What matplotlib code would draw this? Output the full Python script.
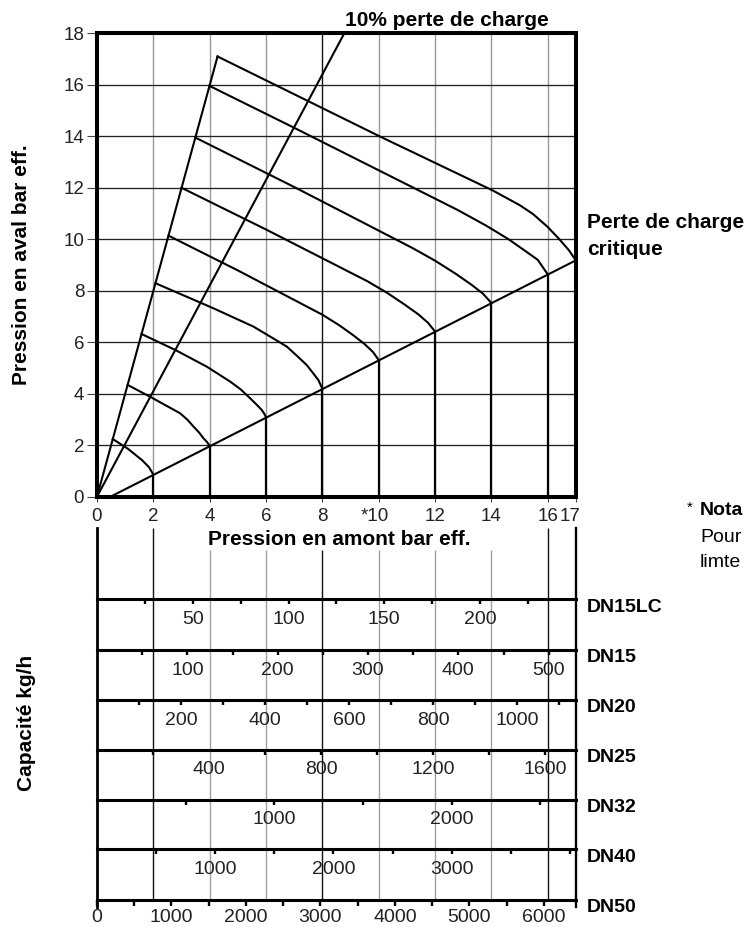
import matplotlib
matplotlib.use("Agg")
import matplotlib.pyplot as plt
from matplotlib.transforms import ScaledTranslation

plt.rcParams["font.family"] = ["Liberation Sans", "DejaVu Sans"]

# ---- main chart : downstream vs upstream pressure (bar eff.) ----
x_ticks = [0, 2, 4, 6, 8, 10, 12, 14, 16, 17]
x_tick_labels = ["0", "2", "4", "6", "8", "*10", "12", "14", "16", "17"]
y_ticks = [0, 2, 4, 6, 8, 10, 12, 14, 16, 18]
grid_x = [2, 4, 6, 8, 10, 12, 14, 16]
grid_x_color = ["#9a9a9a", "#9a9a9a", "#9a9a9a", "#111111",
                "#9a9a9a", "#9a9a9a", "#9a9a9a", "#9a9a9a"]
grid_y = [2, 4, 6, 8, 10, 12, 14, 16]

# one curve per upstream pressure, from the max line down to the critical line
curve_p = [2, 4, 6, 8, 10, 12, 14, 16, 17]
curve_x = [
    [0.56, 1.10, 1.60, 1.85, 2.00],
    [1.09, 1.89, 2.95, 3.20, 3.43, 3.62, 3.78, 3.91, 4.00],
    [1.58, 2.78, 3.90, 4.73, 5.10, 5.44, 5.70, 5.85, 5.95, 6.00],
    [2.08, 4.13, 5.55, 6.30, 6.74, 7.15, 7.45, 7.70, 7.86, 8.00],
    [2.54, 5.00, 8.00, 8.60, 9.10, 9.50, 9.80, 10.00],
    [3.00, 6.00, 9.60, 10.30, 10.90, 11.40, 11.75, 12.00],
    [3.49, 7.00, 11.20, 12.00, 12.75, 13.30, 13.70, 14.00],
    [3.99, 7.00, 12.80, 13.80, 14.60, 15.20, 15.65, 16.00],
    [4.28, 10.05, 14.06, 15.00, 15.48, 16.00, 16.40, 16.75, 17.00],
]
curve_y = [
    [2.24, 1.86, 1.42, 1.14, 0.86],
    [4.34, 3.88, 3.24, 3.00, 2.72, 2.50, 2.27, 2.12, 1.98],
    [6.32, 5.70, 5.05, 4.47, 4.17, 3.82, 3.54, 3.37, 3.20, 3.09],
    [8.29, 7.32, 6.61, 6.12, 5.83, 5.42, 5.11, 4.76, 4.53, 4.20],
    [10.14, 8.79, 7.07, 6.66, 6.27, 5.93, 5.62, 5.31],
    [12.00, 10.38, 8.37, 7.92, 7.48, 7.09, 6.76, 6.42],
    [13.95, 12.03, 9.66, 9.17, 8.65, 8.23, 7.89, 7.53],
    [15.96, 14.33, 11.14, 10.54, 10.01, 9.55, 9.20, 8.64],
    [17.10, 13.99, 11.89, 11.33, 10.98, 10.48, 10.02, 9.58, 9.18],
]

max_line_x = [0, 4.28]
max_line_y = [0, 17.1]
loss10_x = [0, 8.78]
loss10_y = [0, 18.0]
crit_x = [0.48, 17.0]
crit_y = [0.0, 9.18]

# ---- capacity scales (kg/h) ----
dn_names = ["DN15LC", "DN15", "DN20", "DN25", "DN32", "DN40", "DN50"]
dn_full = [250, 530, 1140, 1710, 2700, 4050, 6430]   # kg/h at 17 bar
dn_ticks = [
    [25, 50, 75, 100, 125, 150, 175, 200, 225],
    [50, 100, 150, 200, 250, 300, 350, 400, 450, 500],
    [100, 200, 300, 400, 500, 600, 700, 800, 900, 1000, 1100],
    [200, 600, 800, 1000, 1200, 1400, 1600],
    [500, 1000, 1500, 2000, 2500],
    [500, 1000, 1500, 2000, 2500, 3000, 3500, 4000],
    [0, 500, 1000, 1500, 2000, 2500, 3000, 3500, 4000, 4500, 5000, 5500, 6000],
]
dn_labels = [
    [50, 100, 150, 200],
    [100, 200, 300, 400, 500],
    [200, 400, 600, 800, 1000],
    [400, 800, 1200, 1600],
    [1000, 2000],
    [1000, 2000, 3000],
    [0, 1000, 2000, 3000, 4000, 5000, 6000],
]
cap_guide_x = [2, 4, 6, 8, 10, 12, 14, 16]
cap_guide_color = ["#111111", "#a0a0a0", "#a0a0a0", "#111111",
                   "#a0a0a0", "#a0a0a0", "#a0a0a0", "#111111"]

# layout (pixels of a 747x927 image)
W, H = 747, 927
X0, X1 = 97, 575.8
ROW_PX = [599, 650, 700, 749.5, 799.5, 849, 900]
CAP_TOP, CAP_BOT = 527.7, 907
GUIDE_TOP = [527.7, 550, 550, 550, 550, 550, 550, 527.7]


def fx(px):
    return px / W


def fy(py):
    return 1 - py / H


fig = plt.figure(figsize=(W / 100, H / 100), dpi=100)

ax = fig.add_axes([fx(X0), fy(496.7), fx(X1) - fx(X0), fy(33.3) - fy(496.7)])
ax.set_xlim(0, 17)
ax.set_ylim(0, 18)

for gx, gc in zip(grid_x, grid_x_color):
    ax.axvline(gx, color=gc, lw=1.0, zorder=1)
for gy in grid_y:
    ax.axhline(gy, color="#222222", lw=0.95, zorder=1)

ax.plot(max_line_x, max_line_y, color="k", lw=1.5, zorder=3)
ax.plot(loss10_x, loss10_y, color="k", lw=1.5, zorder=3)
ax.plot(crit_x, crit_y, color="k", lw=1.5, zorder=3)
for p, xs, ys in zip(curve_p, curve_x, curve_y):
    ax.plot(xs, ys, color="k", lw=1.5, solid_joinstyle="round", zorder=3)
    if p < 17:
        ax.vlines(p, 0, ys[-1], color="k", lw=1.6, zorder=3)

for s in ax.spines.values():
    s.set_linewidth(2.9)
    s.set_zorder(5)

ax.set_xticks(x_ticks)
ax.set_xticklabels(x_tick_labels)
ax.set_yticks(y_ticks)
ax.tick_params(axis="x", length=3.6, width=0.8, pad=4.5, labelsize=13.5,
               labelcolor="#222222", color="#444444")
ax.tick_params(axis="y", length=7.2, width=0.8, pad=2, labelsize=13.5,
               labelcolor="#222222", color="#444444")
xl = ax.get_xticklabels()
xl[5].set_transform(xl[5].get_transform() + ScaledTranslation(-0.04, 0, fig.dpi_scale_trans))
xl[-1].set_transform(xl[-1].get_transform() + ScaledTranslation(-0.06, 0, fig.dpi_scale_trans))

# capacity panel frame and guide lines
cap = fig.add_axes([fx(X0), fy(CAP_BOT), fx(X1) - fx(X0), fy(CAP_TOP) - fy(CAP_BOT)])
cap.set_xlim(0, 17)
cap.set_ylim(CAP_BOT, CAP_TOP)
cap.spines["top"].set_visible(False)
cap.spines["bottom"].set_visible(False)
cap.spines["left"].set_linewidth(2.0)
cap.spines["right"].set_linewidth(1.7)
cap.set_xticks([])
cap.set_yticks([])
for gx, gc, top in zip(cap_guide_x, cap_guide_color, GUIDE_TOP):
    cap.vlines(gx, ROW_PX[-1], top, color=gc, lw=1.0)

for i, name in enumerate(dn_names):
    line = ROW_PX[i]
    last = i == len(dn_names) - 1
    h = 20 if last else 50
    r = fig.add_axes([fx(X0), fy(line + h), fx(X1) - fx(X0), h / H])
    r.patch.set_alpha(0)
    r.set_xlim(0, dn_full[i])
    r.set_ylim(0, 1)
    for s in ("left", "right", "bottom"):
        r.spines[s].set_visible(False)
    r.spines["top"].set_linewidth(2.2)
    r.set_yticks([])
    r.set_xticks(dn_ticks[i])
    r.tick_params(axis="x", top=True, bottom=False, direction="in",
                  length=4.3 if last else 3.6, width=1.7,
                  labeltop=False, labelbottom=False, color="k")
    for v in dn_labels[i]:
        r.annotate(f"{v}", xy=(v, 1), xycoords=("data", "axes fraction"),
                   xytext=(0, -15.8 if last else -18), textcoords="offset points",
                   ha="center", va="baseline", fontsize=14, color="#222222",
                   annotation_clip=False)
    fig.text(fx(587), fy(line + 12.5), name, weight="bold", size=14,
             ha="left", va="baseline")

# texts
fig.text(fx(446.7), fy(26), "10% perte de charge", ha="center", va="baseline",
         weight="bold", size=15)
fig.text(fx(586.7), fy(228), "Perte de charge", ha="left", va="baseline",
         weight="bold", size=15)
fig.text(fx(586.7), fy(255), "critique", ha="left", va="baseline",
         weight="bold", size=15)
fig.text(fx(339), fy(545), "Pression en amont bar eff.", ha="center",
         va="baseline", weight="bold", size=15)
fig.text(fx(21.5), fy(265), "Pression en aval bar eff.", rotation=90,
         ha="center", va="center", weight="bold", size=15)
fig.text(fx(26.7), fy(723), "Capacité kg/h", rotation=90,
         ha="center", va="center", weight="bold", size=15)
fig.text(fx(687), fy(508), "*", ha="left", va="center", size=11)
fig.text(fx(700), fy(515), "Nota", ha="left", va="baseline",
         weight="bold", size=14)
fig.text(fx(700), fy(541.7), "Pour", ha="left", va="baseline", size=14)
fig.text(fx(700), fy(566.7), "limte", ha="left", va="baseline", size=14)

fig.savefig("out.png", dpi=100)
